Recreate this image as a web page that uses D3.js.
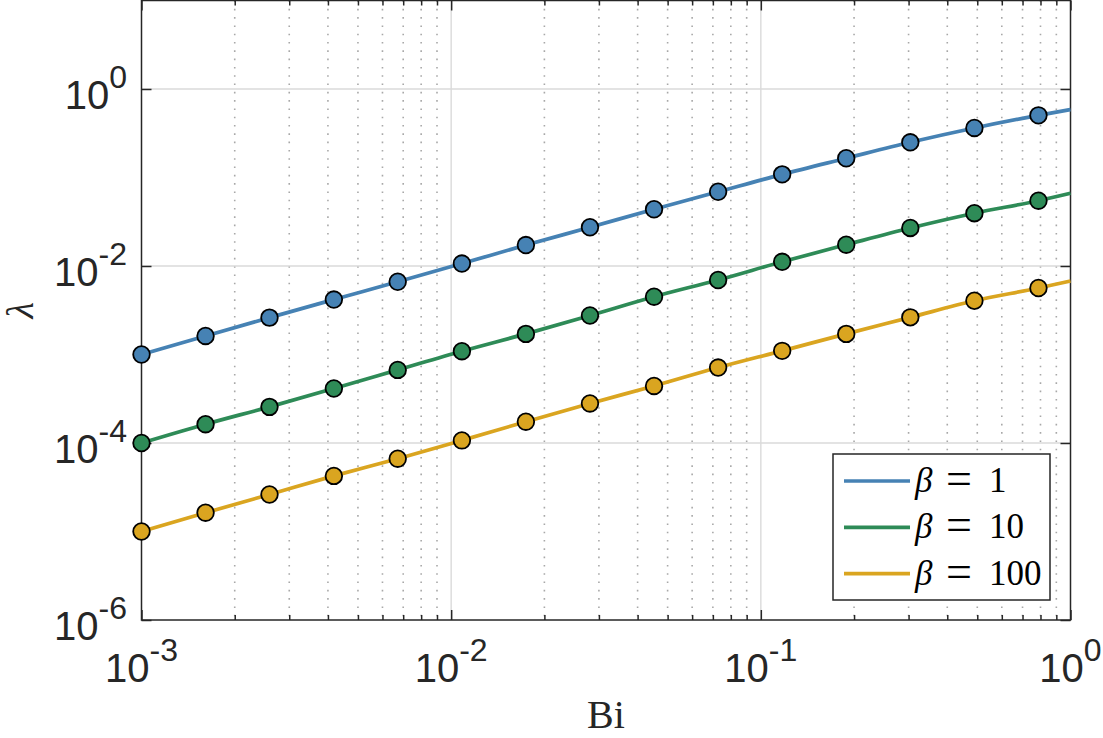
<!DOCTYPE html>
<html>
<head>
<meta charset="utf-8">
<script src="https://cdn.jsdelivr.net/npm/d3@7"></script>
<style>
  body { margin: 0; background: #fff; }
  svg { display: block; }
</style>
</head>
<body>
<script>
// Data
var bi = [0.001, 0.00161, 0.00259, 0.00418, 0.00672, 0.01083, 0.01743, 0.02807,
          0.0452, 0.07279, 0.1172, 0.1887, 0.3039, 0.4894, 0.788, 1.0];
var lamBeta1   = [0.00100, 0.00162, 0.00261, 0.00418, 0.00664, 0.01066, 0.01724, 0.02740,
                  0.0438, 0.0690, 0.1085, 0.1650, 0.2500, 0.3630, 0.5040, 0.5860];
var lamBeta10  = [0.000100, 0.000163, 0.000256, 0.000413, 0.000670, 0.001090, 0.001710, 0.00276,
                  0.00450, 0.00695, 0.01115, 0.01740, 0.02690, 0.03950, 0.05470, 0.06630];
var lamBeta100 = [0.0000100, 0.0000163, 0.0000262, 0.0000425, 0.0000665, 0.000107, 0.000174, 0.000280,
                  0.000441, 0.000712, 0.001100, 0.001710, 0.002630, 0.004050, 0.005640, 0.006770];
var seriesNames = ["1", "10", "100"];
var seriesColors = ["#4682b4", "#2e8b57", "#daa520"];
var xMajor = [1e-3, 1e-2, 1e-1, 1e0];
var xMajorExp = ["-3", "-2", "-1", "0"];
var yMajor = [1e-6, 1e-4, 1e-2, 1e0];
var yMajorExp = ["-6", "-4", "-2", "0"];

var series = [lamBeta1, lamBeta10, lamBeta100];

//Define sizes
var W = 1103, H = 738;
var pLeft = 141.5, pRight = 1070.5, pTop = 0.5, pBottom = 620;
var ink = "#262626";

var svg = d3.select("body").append("svg")
    .attr("width", W)
    .attr("height", H);

//Scales
var x = d3.scaleLog().domain([1e-3, 1]).range([pLeft, pRight]);
var y = d3.scaleLog().domain([1e-6, 10]).range([pBottom, pTop]);

//Minor x values 2..9 per decade
var xMinor = [];
xMajor.slice(0, 3).forEach(function(d) {
  for (var k = 2; k <= 9; k++) xMinor.push(d * k);
});

//Grid
var grid = svg.append("g");
grid.selectAll("line.minor")
    .data(xMinor)
    .enter().append("line")
    .attr("x1", function(d) { return x(d); })
    .attr("x2", function(d) { return x(d); })
    .attr("y1", pTop)
    .attr("y2", pBottom)
    .attr("stroke", "#a8a8a8")
    .attr("stroke-width", 1.6)
    .attr("stroke-dasharray", "1.6,6.7");
grid.selectAll("line.vmaj")
    .data(xMajor.slice(1, 3))
    .enter().append("line")
    .attr("x1", function(d) { return x(d); })
    .attr("x2", function(d) { return x(d); })
    .attr("y1", pTop)
    .attr("y2", pBottom)
    .attr("stroke", "#dadada")
    .attr("stroke-width", 1.4);
grid.selectAll("line.hmaj")
    .data(yMajor.slice(1))
    .enter().append("line")
    .attr("x1", pLeft)
    .attr("x2", pRight)
    .attr("y1", function(d) { return y(d); })
    .attr("y2", function(d) { return y(d); })
    .attr("stroke", "#dadada")
    .attr("stroke-width", 1.4);

//Axes (ticks point inward)
function tickAxis(axis, tx, ty, vals, len) {
  var g = svg.append("g")
      .attr("transform", "translate(" + tx + "," + ty + ")")
      .call(axis.tickValues(vals).tickSizeInner(len).tickSizeOuter(0).tickFormat(""));
  g.select(".domain").remove();
  g.selectAll(".tick line").attr("stroke", ink).attr("stroke-width", 1.5);
  return g;
}
tickAxis(d3.axisBottom(x), 0, pBottom, xMajor, -10);
tickAxis(d3.axisBottom(x), 0, pBottom, xMinor, -5);
tickAxis(d3.axisTop(x), 0, pTop, xMajor, -10);
tickAxis(d3.axisTop(x), 0, pTop, xMinor, -5);
tickAxis(d3.axisLeft(y), pLeft, 0, yMajor, -10);
tickAxis(d3.axisRight(y), pRight, 0, yMajor, -10);

//Box
svg.append("rect")
    .attr("x", pLeft)
    .attr("y", pTop)
    .attr("width", pRight - pLeft)
    .attr("height", pBottom - pTop)
    .attr("fill", "none")
    .attr("stroke", ink)
    .attr("stroke-width", 1.5);

//Tick labels
var labFont = "'Liberation Sans', Arial, Helvetica, sans-serif";
var xl = svg.append("g").selectAll("text")
    .data(xMajor)
    .enter().append("text")
    .attr("x", function(d) { return x(d); })
    .attr("y", 682)
    .attr("text-anchor", "middle")
    .attr("fill", ink)
    .attr("font-family", labFont)
    .attr("font-size", 40);
xl.append("tspan").text("10");
xl.append("tspan").attr("dy", -21).attr("font-size", 32)
    .text(function(d, i) { return xMajorExp[i]; });

var yl = svg.append("g").selectAll("text")
    .data(yMajor)
    .enter().append("text")
    .attr("x", 127)
    .attr("y", function(d) { return y(d) + 19.5; })
    .attr("text-anchor", "end")
    .attr("fill", ink)
    .attr("font-family", labFont)
    .attr("font-size", 40);
yl.append("tspan").text("10");
yl.append("tspan").attr("dy", -21).attr("font-size", 32)
    .text(function(d, i) { return yMajorExp[i]; });

//Axis titles
var serif = "'Liberation Serif', 'Times New Roman', serif";
svg.append("text")
    .attr("x", (pLeft + pRight) / 2)
    .attr("y", 728)
    .attr("text-anchor", "middle")
    .attr("fill", ink)
    .attr("font-family", serif)
    .attr("font-size", 40)
    .text("Bi");
svg.append("text")
    .attr("transform", "translate(33," + ((pTop + pBottom) / 2) + ") rotate(-90)")
    .attr("text-anchor", "middle")
    .attr("fill", ink)
    .attr("font-family", serif)
    .attr("font-style", "italic")
    .attr("font-size", 38)
    .text("λ");

//Lines and markers
var line = d3.line()
    .x(function(d, i) { return x(bi[i]); })
    .y(function(d) { return y(d); })
    .curve(d3.curveMonotoneX);

var sg = svg.append("g").selectAll("g")
    .data(series)
    .enter().append("g");
sg.append("path")
    .attr("d", function(d) { return line(d); })
    .attr("fill", "none")
    .attr("stroke", function(d, i) { return seriesColors[i]; })
    .attr("stroke-width", 3.7);
sg.each(function(d, i) {
  d3.select(this).selectAll("circle")
      .data(d.slice(0, 15))
      .enter().append("circle")
      .attr("cx", function(v, j) { return x(bi[j]); })
      .attr("cy", function(v) { return y(v); })
      .attr("r", 8.3)
      .attr("fill", seriesColors[i])
      .attr("stroke", "#000")
      .attr("stroke-width", 1.8);
});

//Legend
var lg = svg.append("g").attr("transform", "translate(833,454)");
lg.append("rect")
    .attr("width", 217)
    .attr("height", 146)
    .attr("fill", "#fff")
    .attr("stroke", ink)
    .attr("stroke-width", 1.5);
var row = lg.selectAll("g.row")
    .data(seriesNames)
    .enter().append("g")
    .attr("transform", function(d, i) { return "translate(0," + (27 + i * 46.3) + ")"; });
row.append("line")
    .attr("x1", 11)
    .attr("x2", 77)
    .attr("stroke", function(d, i) { return seriesColors[i]; })
    .attr("stroke-width", 3.7);
var lt = row.append("text")
    .attr("y", 11)
    .attr("fill", "#000")
    .attr("font-family", serif)
    .attr("font-size", 35);
lt.append("tspan").attr("x", 82).attr("font-style", "italic").text("β");
lt.append("tspan").attr("x", 113).attr("font-size", 46).attr("dy", 2).text("=");
lt.append("tspan").attr("x", 156).attr("dy", -2).text(function(d) { return d; });
</script>
</body>
</html>
